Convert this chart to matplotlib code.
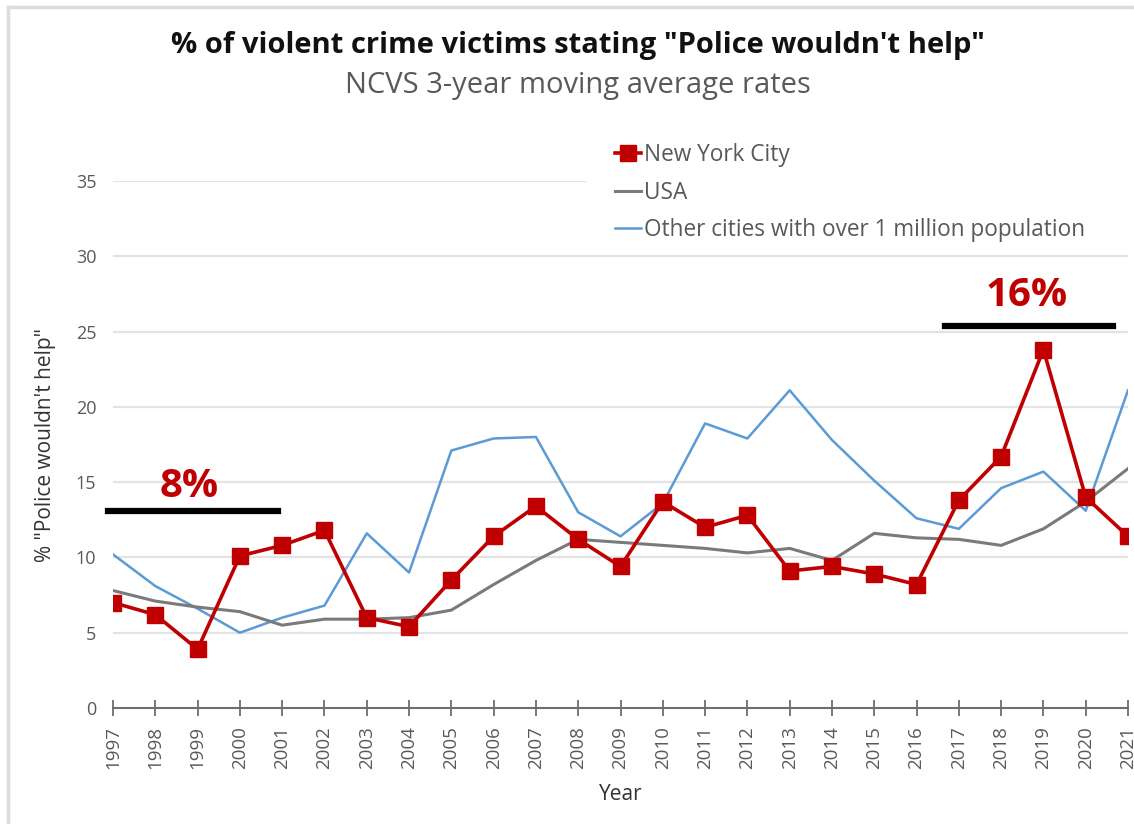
import numpy as np
import matplotlib.pyplot as plt
from matplotlib.lines import Line2D

plt.rcParams['font.family'] = ['Open Sans', 'DejaVu Sans']

years = list(range(1997, 2022))

nyc = [7.0, 6.2, 3.9, 10.1, 10.8, 11.8, 6.0, 5.4, 8.5, 11.4, 13.4, 11.2, 9.4,
       13.7, 12.0, 12.8, 9.1, 9.4, 8.9, 8.2, 13.8, 16.7, 23.8, 14.0, 11.4]
usa = [7.8, 7.1, 6.7, 6.4, 5.5, 5.9, 5.9, 6.0, 6.5, 8.2, 9.8, 11.2, 11.0,
       10.8, 10.6, 10.3, 10.6, 9.8, 11.6, 11.3, 11.2, 10.8, 11.9, 13.7, 15.9]
other = [10.2, 8.1, 6.6, 5.0, 6.0, 6.8, 11.6, 9.0, 17.1, 17.9, 18.0, 13.0, 11.4,
         13.6, 18.9, 17.9, 21.1, 17.8, 15.1, 12.6, 11.9, 14.6, 15.7, 13.1, 21.1]

labels = ["New York City", "USA", "Other cities with over 1 million population"]
red = "#C00000"
gray = "#7a7a7a"
blue = "#5B9BD5"
txt = "#595959"
yticks = list(range(0, 36, 5))

fig = plt.figure(figsize=(11.34, 8.24), dpi=100)
ax = fig.add_axes([113 / 1134, 1 - 708 / 824, (1128 - 113) / 1134, (708 - 181) / 824])

# screenshot border
fig.add_artist(Line2D([8 / 1134, 1], [1 - 7 / 824, 1 - 7 / 824], color="#dcdcdc", lw=2.5))
fig.add_artist(Line2D([8 / 1134, 8 / 1134], [0, 1 - 7 / 824], color="#dcdcdc", lw=2.5))

# gridlines (top one stops where the legend box starts)
for v in yticks[1:]:
    xmax = 0.465 if v == 35 else 1.0
    ax.axhline(v, xmax=xmax, color="#e3e3e3", lw=1.6, zorder=1)

ax.plot(years, other, color=blue, lw=1.8, zorder=3)
ax.plot(years, usa, color=gray, lw=2.2, zorder=4)
ax.plot(years, nyc, color=red, lw=2.6, marker='s', ms=11, zorder=5)

ax.set_xlim(1997, 2021)
ax.set_ylim(0, 35)
ax.set_yticks(yticks)
ax.set_xticks(years)
ax.set_xticklabels([str(y) for y in years], rotation=90)
for s in ['top', 'right', 'left']:
    ax.spines[s].set_visible(False)
ax.spines['bottom'].set_color("#6e6e6e")
ax.spines['bottom'].set_linewidth(1.5)
ax.tick_params(axis='y', length=0, pad=12, labelsize=13, labelcolor=txt)
ax.tick_params(axis='x', direction='inout', length=12, width=1.3, color="#6e6e6e",
               labelsize=13.5, labelcolor=txt, pad=7)

ax.set_xlabel("Year", fontsize=15, color="#333333", labelpad=11)
ax.set_ylabel('% "Police wouldn\'t help"', fontsize=15, color="#333333", labelpad=14)

fig.text(0.51, 1 - 45 / 824, '% of violent crime victims stating "Police wouldn\'t help"',
         ha='center', va='center', fontsize=21, fontweight='bold', color="#111111")
fig.text(0.51, 1 - 86 / 824, "NCVS 3-year moving average rates",
         ha='center', va='center', fontsize=21, color=txt)

handles = [Line2D([], [], color=red, lw=2.6, marker='s', ms=11),
           Line2D([], [], color=gray, lw=2.2),
           Line2D([], [], color=blue, lw=1.8)]
leg = fig.legend(handles, labels, loc='upper left', bbox_to_anchor=(606 / 1134, 1 - 134 / 824),
                 fontsize=16.3, handlelength=1.15, handletextpad=0.15, labelspacing=0.6,
                 frameon=False, borderaxespad=0)
for t in leg.get_texts():
    t.set_color(txt)

# annotation bars
ax.plot([1996.88, 2000.9], [13.1, 13.1], color='black', lw=4.5, clip_on=False, zorder=6)
ax.text(1998.8, 13.4, "8%", color=red, fontsize=29, fontweight='bold', ha='center', va='bottom')
ax.plot([2016.67, 2020.64], [25.4, 25.4], color='black', lw=4.5, clip_on=False, zorder=6)
ax.text(2018.6, 26.1, "16%", color=red, fontsize=29, fontweight='bold', ha='center', va='bottom')

fig.savefig("out.png", dpi=100)
